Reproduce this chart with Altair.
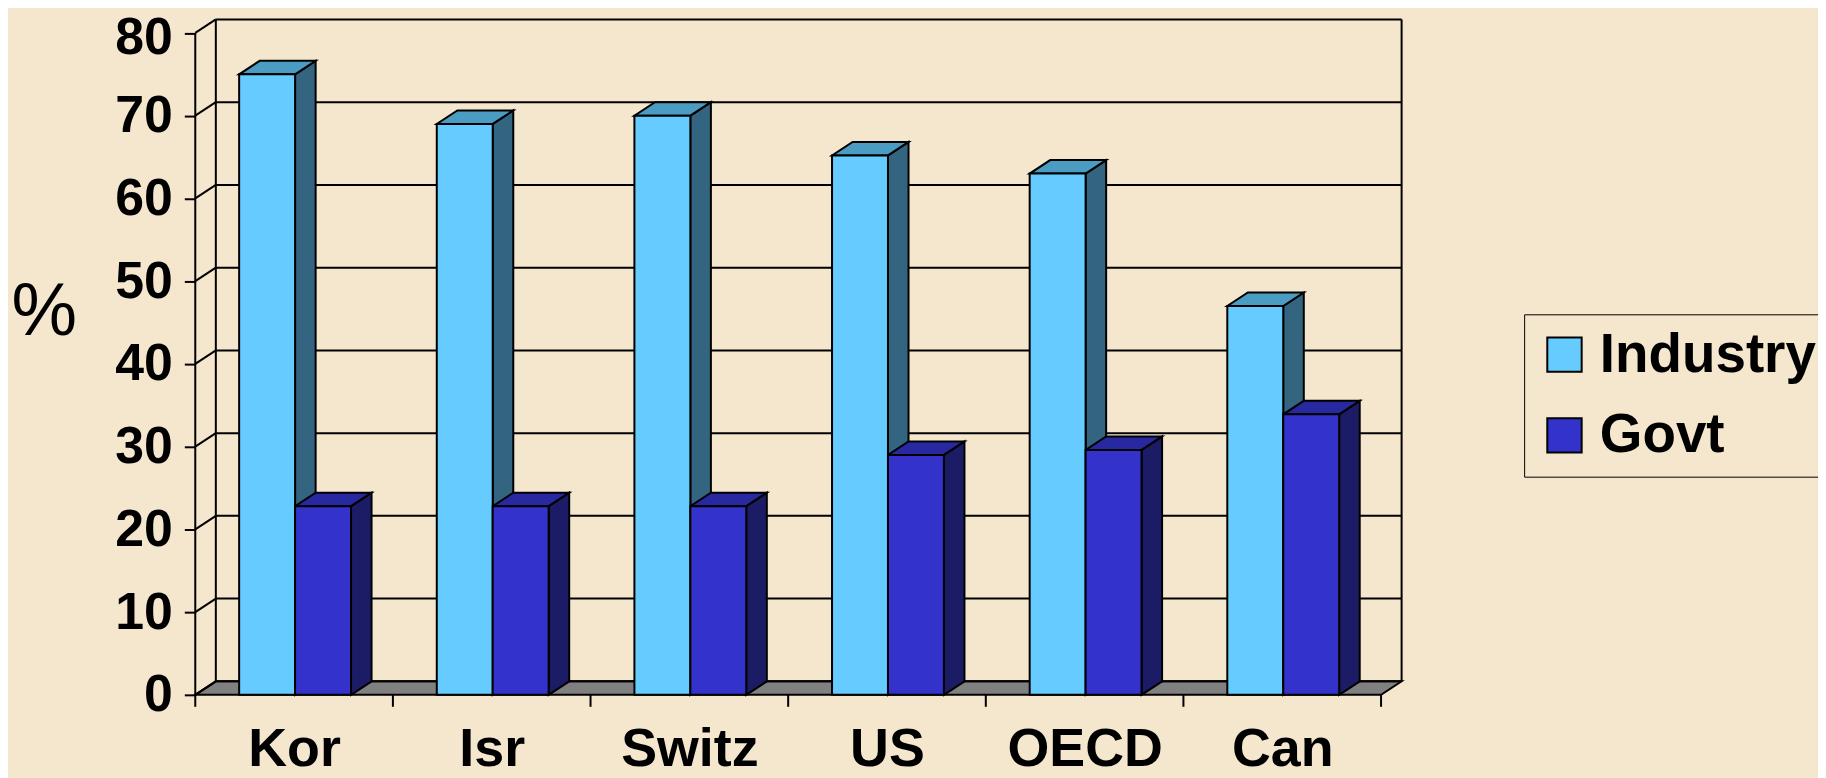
import altair as alt
import pandas as pd

# ---- data ----
categories = ["Kor", "Isr", "Switz", "US", "OECD", "Can"]
series = ["Industry", "Govt"]
industry = [75.0, 69.0, 70.0, 65.2, 63.0, 47.0]
govt = [22.8, 22.8, 22.8, 29.0, 29.6, 33.9]
y_ticks = [0, 10, 20, 30, 40, 50, 60, 70, 80]

# ---- styling constants (3-D look) ----
BAR_W = 0.283
GROUP_C = 0.505
DX = 0.104      # depth offset in category units
DY = 1.63       # depth offset in value units
W, H = 1211, 678
BG = "#F5E6CE"
front_col = {"Industry": "#66CCFF", "Govt": "#3333CC"}
top_col = {"Industry": "#4B9CC2", "Govt": "#2828A0"}
side_col = {"Industry": "#336480", "Govt": "#1C1C66"}
FONT = "Liberation Sans"

ncat = len(categories)
values = {"Industry": industry, "Govt": govt}

fronts, tops, sides = [], [], []
for i, c in enumerate(categories):
    for j, s in enumerate(series):
        v = values[s][i]
        x0 = i + GROUP_C - BAR_W + j * BAR_W
        x1 = x0 + BAR_W
        bid = f"{c}-{s}"
        fronts.append({"x0": x0, "x1": x1, "y0": 0, "y1": v, "series": s})
        for (xx, lo, hi) in [(x0, v, v), (x0 + DX, v, v + DY),
                             (x1, v, v + DY), (x1 + DX, v + DY, v + DY)]:
            tops.append({"id": bid, "x": xx, "lo": lo, "hi": hi, "fill": top_col[s]})
        for (xx, lo, hi) in [(x1, 0, v), (x1 + DX, DY, v + DY)]:
            sides.append({"id": bid, "x": xx, "lo": lo, "hi": hi, "fill": side_col[s]})

floor = pd.DataFrame([
    {"x": 0, "lo": 0, "hi": 0},
    {"x": DX, "lo": 0, "hi": DY},
    {"x": ncat, "lo": 0, "hi": DY},
    {"x": ncat + DX, "lo": DY, "hi": DY},
])
grid = pd.DataFrame({"v": y_ticks})
grid["vb"] = grid["v"] + DY
grid["xa"] = DX
grid["xb"] = ncat + DX
grid["x0"] = 0.0
walls = pd.DataFrame([
    {"x": 0, "y0": 0, "y1": y_ticks[-1]},
    {"x": DX, "y0": DY, "y1": y_ticks[-1] + DY},
    {"x": ncat + DX, "y0": DY, "y1": y_ticks[-1] + DY},
])
bounds = pd.DataFrame({"b": list(range(ncat + 1))})

xs = alt.Scale(domain=[0, ncat + DX], nice=False, zero=False)
ys = alt.Scale(domain=[0, y_ticks[-1] + DY], nice=False, zero=False)

label_expr = "[" + ",".join(f"'{c}'" for c in categories) + "][floor(datum.value)]"
ax_x = alt.Axis(
    values=[i + 0.5 for i in range(ncat)], labelExpr=label_expr, ticks=False,
    domain=False, grid=False, title=None, labelFont=FONT, labelFontSize=54,
    labelFontWeight="bold", labelColor="black", labelPadding=28,
    labelBaseline="top", labelFlush=False, labelOverlap=False)
ax_y = alt.Axis(
    values=y_ticks, grid=False, domain=False, tickSize=11, tickWidth=2,
    tickColor="black", labelFont=FONT, labelFontSize=52, labelFontWeight="bold",
    labelColor="black", labelPadding=12, title="%", titleAngle=0,
    labelOffset={"condition": {"test": f"datum.value == {y_ticks[-1]}", "value": 5},
                 "value": 0},
    titleFont=FONT, titleFontSize=74, titleFontWeight="normal", titleColor="black",
    titleX=-152, titleY=316, titleAlign="center", titleBaseline="alphabetic",
    labelOverlap=False)


def X(f):
    return alt.X(f, scale=xs, axis=ax_x)


def Y(f, **kw):
    return alt.Y(f, scale=ys, axis=ax_y, **kw)


floor_l = alt.Chart(floor).mark_area(fill="#808080", stroke="black", strokeWidth=2,
                                     interpolate="linear").encode(
    x=X("x:Q"), y=Y("lo:Q", stack=False), y2="hi:Q",
)

back_grid = alt.Chart(grid).mark_rule(color="black", strokeWidth=2).encode(
    x=X("xa:Q"), x2="xb:Q", y=Y("vb:Q"),
)

diag = alt.Chart(grid).mark_rule(color="black", strokeWidth=2).encode(
    x=X("x0:Q"), x2="xa:Q", y=Y("v:Q"), y2="vb:Q",
)

wall_l = alt.Chart(walls).mark_rule(color="black", strokeWidth=2).encode(
    x=X("x:Q"), y=Y("y0:Q"), y2="y1:Q",
)

tick_l = alt.Chart(bounds).mark_rule(color="black", strokeWidth=2).encode(
    x=X("b:Q"), y=alt.value(H), y2=alt.value(H + 12),
)

side_l = alt.Chart(pd.DataFrame(sides)).mark_area(stroke="black", strokeWidth=2,
                                                 interpolate="linear").encode(
    x=X("x:Q"), y=Y("lo:Q", stack=False), y2="hi:Q",
    detail="id:N",
    fill=alt.Fill("fill:N", scale=None),
)

top_l = alt.Chart(pd.DataFrame(tops)).mark_area(stroke="black", strokeWidth=2,
                                               interpolate="linear").encode(
    x=X("x:Q"), y=Y("lo:Q", stack=False), y2="hi:Q",
    detail="id:N",
    fill=alt.Fill("fill:N", scale=None),
)

front_l = alt.Chart(pd.DataFrame(fronts)).mark_rect(stroke="black", strokeWidth=2).encode(
    x=X("x0:Q"), x2="x1:Q",
    y=Y("y0:Q"), y2="y1:Q",
    color=alt.Color("series:N", scale=alt.Scale(domain=series,
                                                range=[front_col[s] for s in series]),
                    sort=series,
                    legend=alt.Legend(title=None, orient="none", legendX=1334, legendY=296,
                                      direction="vertical", symbolType="square",
                                      symbolSize=1190, symbolStrokeColor="black",
                                      symbolStrokeWidth=2, symbolOpacity=1,
                                      labelFont=FONT, labelFontSize=55,
                                      labelFontWeight="bold", labelColor="black",
                                      labelOffset=8, rowPadding=25, padding=13,
                                      strokeColor="black", fillColor=BG, labelLimit=400)),
)

chart = alt.layer(floor_l, back_grid, diag, wall_l, tick_l, side_l, top_l, front_l).properties(
    width=W, height=H,
    autosize=alt.AutoSizeParams(type="none"),
    padding={"left": 188, "top": 10, "right": 418, "bottom": 82},
    background=BG,
).configure_view(strokeWidth=0)

chart.save("out.html", embed_options={"renderer": "svg", "actions": False})
